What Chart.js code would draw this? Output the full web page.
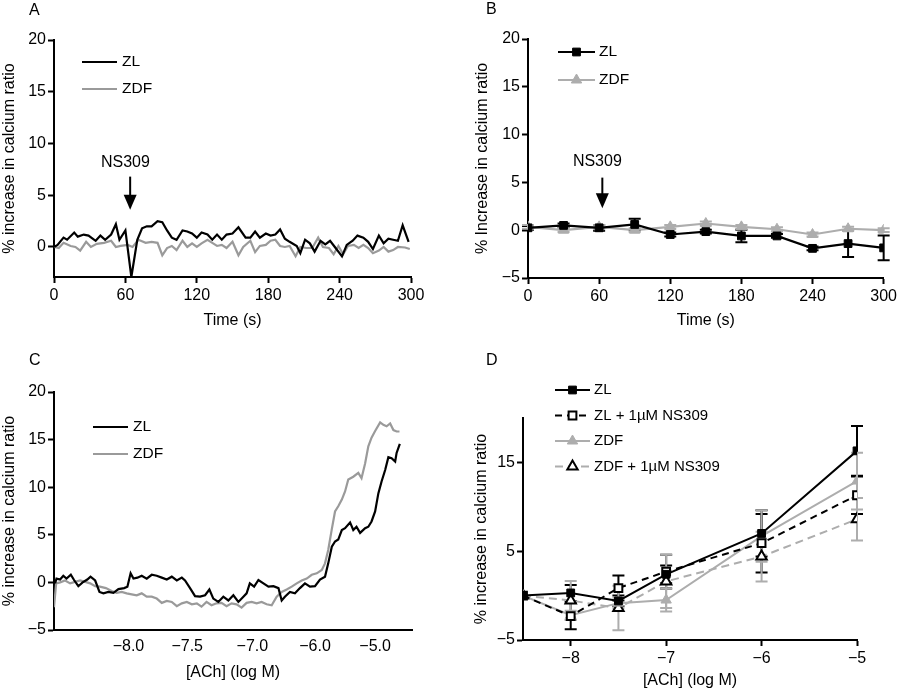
<!DOCTYPE html>
<html>
<head>
<meta charset="utf-8">
<script src="https://cdn.jsdelivr.net/npm/chart.js@4.4.1/dist/chart.umd.min.js"></script>
<style>
  body { margin: 0; background: #fff; }
  #wrap { position: relative; width: 900px; height: 690px; }
  canvas { position: absolute; }
  .tag { position: absolute; font: 16px 'Liberation Sans', Arial, sans-serif; line-height: 18px; }
</style>
</head>
<body>
<div id="wrap">
  <canvas id="chartA" width="450" height="330" style="left:0;top:0"></canvas>
  <canvas id="chartB" width="450" height="330" style="left:450px;top:0"></canvas>
  <canvas id="chartC" width="450" height="360" style="left:0;top:330px"></canvas>
  <canvas id="chartD" width="450" height="360" style="left:450px;top:330px"></canvas>
  <div class="tag" style="left:29px;top:1px">A</div>
  <div class="tag" style="left:486px;top:0">B</div>
  <div class="tag" style="left:29px;top:351px">C</div>
  <div class="tag" style="left:486px;top:351px">D</div>
</div>
<script>
// ---- Panel A: single-cell traces, time (s)
const aTimeZL = [0,3,8,11,17,20,25,29,35,39,43,48,52,55,60,65,70,74,78,82,87,91,95,99,103,108,112,116,120,124,129,133,137,141,145,150,155,161,165,169,173,178,182,186,190,194,198,204,207,211,215,219,224,228,232,236,242,246,251,255,260,264,268,273,277,281,285,289,293,298];
const aZL = [0,0.2,0.9,0.7,1.4,1.0,1.2,1.1,0.6,1.1,0.7,1.2,2.2,0.7,1.6,-2.9,0.7,1.8,2.0,2.0,2.5,2.4,1.6,0.9,0.7,1.6,1.5,1.3,0.9,1.4,1.2,0.7,1.2,0.7,1.2,1.3,1.9,0.9,0.9,1.5,0.9,1.3,1.1,1.2,1.7,0.8,0.5,0.1,-0.6,0.7,0.35,-0.45,0.6,0.25,0.6,0,-0.9,0.2,0.6,1.1,0.9,0.5,-0.2,1.1,0.35,0.8,0.7,0.6,2.1,0.5];
const aTimeZDF = [0,4,8,14,18,22,27,31,36,42,48,52,56,62,66,71,77,82,87,91,95,99,103,108,112,116,120,124,129,133,137,141,145,150,155,159,165,169,173,178,182,186,190,194,198,203,207,212,217,222,226,231,235,239,243,247,252,256,260,264,268,273,277,281,285,289,295,299];
const aZDF = [0,-0.1,0.4,0.1,0,-0.35,0.5,0,0.3,0.4,0.6,0,0.1,0.2,0,0.7,0.4,0.5,0.4,-0.8,-0.1,0.1,-0.3,0.6,0,0.35,0,0.35,0.7,0.4,0.1,0.2,-0.1,0.5,-0.8,0,0.6,-0.5,0.1,0.2,0.6,0.7,0.1,0,0.1,-0.9,0,-0.1,-0.1,0.9,0,-0.1,-0.7,0.1,-0.7,0.1,0.2,-0.1,0.2,-0.1,-0.6,-0.35,0,-0.45,-0.3,0,-0.05,-0.2];
const timeTicks = [0,60,120,180,240,300];
const aYTicks = [0,5,10,15,20];

// ---- Panel B: mean +/- SEM every 30 s
const bTime = [0,30,60,90,120,150,180,210,240,270,300];
const bZL = [0.25,0.5,0.25,0.6,-0.45,-0.15,-0.6,-0.6,-1.9,-1.4,-1.85];
const bZLErr = [0.2,0.2,0.3,0.6,0.2,0.2,0.65,0.2,0.2,1.4,1.3];
const bZDF = [0.35,0,0.35,0,0.35,0.7,0.35,0.1,-0.45,0.15,0];
const bZDFErr = [0.2,0.2,0.2,0.2,0.2,0.2,0.2,0.2,0.2,0.2,0.2];
const bYTicks = [-5,0,5,10,15,20];

// ---- Panel C: cumulative ACh traces (x = recording position)
const cPosZL = [0.3,0.7,1.7,2.6,3.5,4.7,5.6,6.8,8.0,9.3,10.2,11.5,12.7,13.8,15.2,16.6,18.0,19.6,20.5,21.4,22.2,23.3,24.5,25.9,27.3,28.7,30.1,31.5,32.9,34.3,35.7,36.6,38.0,39.4,40.8,42.2,43.4,44.5,45.9,47.3,48.7,50.1,51.5,52.9,53.8,54.7,55.9,57.1,58.5,59.9,61.3,62.7,63.6,64.5,65.9,67.3,68.7,70.1,71.5,72.9,74.3,75.7,76.6,77.6,78.5,79.4,80.4,81.3,82.7,83.6,84.5,85.5,86.9,87.8,88.7,89.7,90.6,91.5,92.5,93.4,94.3,95.3,95.7,96.6];
const cZL = [-0.1,0.4,0.3,0.7,0.4,0.8,0.25,-0.4,0,0.3,0.6,0.2,-1.0,-1.15,-1.0,-1.1,-0.7,-0.6,-0.45,0.95,0.4,0.5,0.7,0.4,0.8,0.7,0.5,0.3,0.6,0.2,0.5,0.2,-0.6,-1.45,-1.5,-1.35,-0.75,-1.7,-2.05,-1.5,-1.9,-1.35,-2.05,-1.5,-1.15,-0.1,-0.45,0.25,-0.1,-0.45,-0.4,-0.6,-1.9,-1.5,-1.0,-1.15,-0.6,-0.1,-0.45,-0.4,0.3,0.6,2.0,3.75,4.3,4.5,5.5,5.7,6.3,5.5,5.85,5.2,5.7,5.85,6.4,7.45,9.35,10.6,11.8,13.15,13.05,12.7,13.6,14.55];
const cPosZDF = [0,0.6,1.7,3.1,4.5,5.9,7.3,8.7,10.1,11.5,12.8,14.5,16.1,17.5,18.9,20.3,21.7,23.1,24.5,25.9,27.3,28.7,30.1,31.5,32.9,34.3,35.7,37.1,38.5,39.9,41.2,42.6,44.0,45.4,46.8,48.2,49.6,51.0,52.4,53.8,55.2,56.6,58.0,59.4,60.8,62.2,63.6,65.0,66.4,67.8,69.2,70.6,72.0,73.4,74.8,75.7,76.6,77.6,78.5,79.4,80.4,81.3,82.2,83.6,85.0,85.9,86.9,87.8,88.7,89.7,91.1,92.0,92.9,93.9,94.8,95.7,96.5];
const cZDF = [-2.6,-0.1,0,0.2,-0.1,0.05,0.2,0.05,-0.1,-0.4,-0.45,-0.6,-0.9,-1.1,-1.0,-1.15,-1.25,-1.35,-1.15,-1.5,-1.5,-1.7,-2.15,-1.95,-2.05,-2.5,-2.2,-2.05,-2.3,-2.2,-2.55,-2.05,-2.4,-2.2,-2.15,-2.5,-2.2,-2.3,-2.65,-2.15,-2.05,-2.2,-2.05,-2.3,-2.4,-1.5,-1.0,-0.75,-0.45,-0.1,0.2,0.4,0.8,0.95,1.3,2.0,3.4,5.6,7.45,8.0,8.7,9.55,10.8,11.1,11.5,10.95,12.5,14.3,15.2,15.9,16.8,16.55,16.4,16.7,16.0,15.85,15.85];
const cTickPos = [20.8,37.2,55.4,72.9,89.7];
const cTickLabels = ['\u22128.0','\u22127.5','\u22127.0','\u22126.0','\u22125.0'];

// ---- Panel D: concentration-response, mean +/- SEM
const dConc = [-8.5,-8,-7.5,-7,-6,-5];
const dZL = [0,0.3,-0.6,2.4,7.0,16.3];
const dZLErr = [0,0.9,0.6,1.0,2.6,2.8];
const dZLNS = [0,-2.3,0.85,2.7,5.9,11.3];
const dZLNSErr = [0,1.5,1.4,1.9,3.3,2.1];
const dZDF = [0,-2.2,-0.85,-0.5,6.7,12.9];
const dZDFErr = [0,0.5,0.6,1.3,2.9,3.2];
const dZDFNS = [0,-0.55,-1.4,1.6,4.4,8.6];
const dZDFNSErr = [0,2.2,2.5,3.0,2.8,2.4];
const dXTicks = [-8,-7,-6,-5];
const dYTicks = [-5,5,15];

const FONT = "'Liberation Sans', Arial, sans-serif";
Chart.defaults.font.family = FONT;
Chart.defaults.font.size = 16;
Chart.defaults.color = '#000';

const minus = v => String(v).replace('-', '\u2212');
const pts = (xs, ys) => xs.map((x, i) => ({ x: x, y: ys[i] }));

// vertical error bars with caps, drawn under the markers
const errorBars = {
  id: 'errorBars',
  beforeDatasetsDraw(chart) {
    const { ctx, scales: { x, y } } = chart;
    chart.data.datasets.forEach(ds => {
      if (!ds.errors) return;
      ctx.save();
      ctx.strokeStyle = ds.borderColor;
      ctx.lineWidth = 2;
      ds.data.forEach((p, i) => {
        const e = ds.errors[i];
        if (!e) return;
        const px = x.getPixelForValue(p.x);
        const top = y.getPixelForValue(p.y + e);
        const bot = y.getPixelForValue(p.y - e);
        ctx.beginPath();
        ctx.moveTo(px, top); ctx.lineTo(px, bot);
        ctx.moveTo(px - 6, top); ctx.lineTo(px + 6, top);
        ctx.moveTo(px - 6, bot); ctx.lineTo(px + 6, bot);
        ctx.stroke();
      });
      ctx.restore();
    });
  }
};

// legend drawn as line + marker + label, like the original figure
const keyBox = {
  id: 'keyBox',
  afterDraw(chart, args, o) {
    if (o.x == null) return;
    const ctx = chart.ctx;
    chart.data.datasets.forEach((ds, i) => {
      const y = o.y + i * o.gap;
      ctx.save();
      ctx.strokeStyle = ds.borderColor;
      ctx.lineWidth = ds.borderWidth;
      ctx.setLineDash(ds.borderDash || []);
      ctx.beginPath();
      ctx.moveTo(o.x, y); ctx.lineTo(o.x + o.len, y);
      ctx.stroke();
      ctx.setLineDash([]);
      if (ds.pointRadius > 0) {
        ctx.fillStyle = ds.pointBackgroundColor;
        ctx.strokeStyle = ds.pointBorderColor;
        ctx.lineWidth = ds.pointBorderWidth;
        Chart.helpers.drawPoint(ctx, { pointStyle: ds.pointStyle, radius: ds.pointRadius, rotation: 0, borderWidth: ds.pointBorderWidth }, o.x + o.len / 2, y);
      }
      ctx.fillStyle = '#000';
      ctx.font = (o.size || 15.5) + 'px ' + FONT;
      ctx.textBaseline = 'middle';
      ctx.fillText(ds.label, o.x + o.len + o.pad, y);
      ctx.restore();
    });
  }
};

// "NS309" label with a down arrow
const addArrow = {
  id: 'addArrow',
  afterDraw(chart, args, o) {
    if (o.at == null) return;
    const { ctx, scales: { x, y } } = chart;
    const px = x.getPixelForValue(o.at);
    const tip = y.getPixelForValue(o.tip);
    const tail = y.getPixelForValue(o.tail);
    ctx.save();
    ctx.strokeStyle = '#000';
    ctx.fillStyle = '#000';
    ctx.lineWidth = 2;
    ctx.beginPath();
    ctx.moveTo(px, tail); ctx.lineTo(px, tip - 10);
    ctx.stroke();
    ctx.beginPath();
    ctx.moveTo(px - 6.5, tip - 15); ctx.lineTo(px + 6.5, tip - 15); ctx.lineTo(px, tip);
    ctx.closePath();
    ctx.fill();
    ctx.font = '16px ' + FONT;
    ctx.textAlign = 'center';
    ctx.textBaseline = 'middle';
    ctx.fillText(o.text, x.getPixelForValue(o.textAt), y.getPixelForValue(o.textY));
    ctx.restore();
  }
};

function yAxis(min, max, ticks, width, title) {
  return {
    type: 'linear', min: min, max: max,
    afterBuildTicks: s => { s.ticks = ticks.map(v => ({ value: v })); },
    afterFit: s => { s.width = width; },
    ticks: { callback: v => minus(v), padding: 2, color: '#000' },
    grid: { drawOnChartArea: false, tickLength: 6, tickWidth: 2, tickColor: '#000' },
    border: { color: '#000', width: 2 },
    title: { display: true, text: title, padding: 0, color: '#000' }
  };
}

function xAxis(min, max, ticks, height, title, labels, drawTicks) {
  return {
    type: 'linear', min: min, max: max,
    afterBuildTicks: s => { s.ticks = ticks.map(v => ({ value: v })); },
    afterFit: s => { s.height = height; },
    ticks: {
      callback: (v, i) => labels ? labels[i] : minus(v),
      padding: drawTicks ? 3 : 7, autoSkip: false, maxRotation: 0, color: '#000'
    },
    grid: { drawOnChartArea: false, drawTicks: drawTicks, tickLength: 6, tickWidth: 2, tickColor: '#000' },
    border: { color: '#000', width: 2 },
    title: { display: true, text: title, padding: 0, color: '#000' }
  };
}

function baseOptions(pad, scales, extra) {
  return {
    responsive: false,
    animation: false,
    layout: { padding: pad },
    scales: scales,
    plugins: Object.assign({ legend: { display: false }, tooltip: { enabled: false } }, extra)
  };
}

const GREY = '#9a9a9a';
const LGREY = '#adadad';

// Panel A
new Chart(document.getElementById('chartA'), {
  type: 'line',
  data: {
    datasets: [
      { label: 'ZL', data: pts(aTimeZL, aZL), borderColor: '#000', borderWidth: 2.2, pointRadius: 0 },
      { label: 'ZDF', data: pts(aTimeZDF, aZDF), borderColor: GREY, borderWidth: 2.2, pointRadius: 0 }
    ]
  },
  options: baseOptions({ left: 0, top: 40, right: 39, bottom: 0 }, {
    x: xAxis(0, 300, timeTicks, 53, 'Time (s)', null, true),
    y: yAxis(-2.9, 20, aYTicks, 54, '% increase in calcium ratio')
  }, {
    keyBox: { x: 82, y: 62, gap: 27, len: 35, pad: 5 },
    addArrow: { at: 64, tip: 3.6, tail: 6.8, text: 'NS309', textAt: 60, textY: 8.2 }
  }),
  plugins: [keyBox, addArrow]
});

// Panel B
new Chart(document.getElementById('chartB'), {
  type: 'line',
  data: {
    datasets: [
      { label: 'ZL', data: pts(bTime, bZL), errors: bZLErr, borderColor: '#000', borderWidth: 2.2,
        pointStyle: 'rect', pointRadius: 5.5, pointBackgroundColor: '#000', pointBorderColor: '#000', pointBorderWidth: 1 },
      { label: 'ZDF', data: pts(bTime, bZDF), errors: bZDFErr, borderColor: LGREY, borderWidth: 2.2,
        pointStyle: 'triangle', pointRadius: 6, pointBackgroundColor: LGREY, pointBorderColor: LGREY, pointBorderWidth: 1 }
    ]
  },
  options: baseOptions({ left: 23, top: 39, right: 13, bottom: 0 }, {
    x: xAxis(0, 300, timeTicks, 52, 'Time (s)', null, true),
    y: yAxis(-5, 20, bYTicks, 55, '% Increase in calcium ratio')
  }, {
    keyBox: { x: 108, y: 52, gap: 28, len: 37, pad: 4 },
    addArrow: { at: 62.7, tip: 2.3, tail: 5.5, text: 'NS309', textAt: 58.5, textY: 7.2 }
  }),
  plugins: [errorBars, keyBox, addArrow]
});

// Panel C
new Chart(document.getElementById('chartC'), {
  type: 'line',
  data: {
    datasets: [
      { label: 'ZL', data: pts(cPosZL, cZL), borderColor: '#000', borderWidth: 2.2, pointRadius: 0 },
      { label: 'ZDF', data: pts(cPosZDF, cZDF), borderColor: GREY, borderWidth: 2.2, pointRadius: 0 }
    ]
  },
  options: baseOptions({ left: 0, top: 62, right: 38, bottom: 8 }, {
    x: xAxis(0, 100, cTickPos, 52, '[ACh] (log M)', cTickLabels, false),
    y: yAxis(-5, 20, bYTicks, 54, '% increase in calcium ratio')
  }, {
    keyBox: { x: 93, y: 97, gap: 27, len: 35, pad: 5 }
  }),
  plugins: [keyBox]
});

// Panel D
new Chart(document.getElementById('chartD'), {
  type: 'line',
  data: {
    datasets: [
      { label: 'ZL', data: pts(dConc, dZL), errors: dZLErr, borderColor: '#000', borderWidth: 2,
        pointStyle: 'rect', pointRadius: 5.5, pointBackgroundColor: '#000', pointBorderColor: '#000', pointBorderWidth: 1 },
      { label: 'ZL + 1\u00b5M NS309', data: pts(dConc, dZLNS), errors: dZLNSErr, borderColor: '#000', borderWidth: 2, borderDash: [7, 5],
        pointStyle: 'rect', pointRadius: 5.5, pointBackgroundColor: '#fff', pointBorderColor: '#000', pointBorderWidth: 2 },
      { label: 'ZDF', data: pts(dConc, dZDF), errors: dZDFErr, borderColor: LGREY, borderWidth: 2,
        pointStyle: 'triangle', pointRadius: 6, pointBackgroundColor: LGREY, pointBorderColor: LGREY, pointBorderWidth: 1 },
      { label: 'ZDF + 1\u00b5M NS309', data: pts(dConc, dZDFNS), errors: dZDFNSErr, borderColor: LGREY, borderWidth: 2, borderDash: [8, 5],
        pointStyle: 'triangle', pointRadius: 6, pointBackgroundColor: '#fff', pointBorderColor: '#000', pointBorderWidth: 2 }
    ]
  },
  options: baseOptions({ left: 22, top: 88, right: 43, bottom: 0 }, {
    x: xAxis(-8.5, -5, dXTicks, 50, '[ACh] (log M)', null, true),
    y: yAxis(-5, 20, dYTicks, 51, '% increase in calcium ratio')
  }, {
    keyBox: { x: 105, y: 60, gap: 25.5, len: 35, pad: 4, size: 15 }
  }),
  plugins: [errorBars, keyBox]
});
</script>
</body>
</html>
